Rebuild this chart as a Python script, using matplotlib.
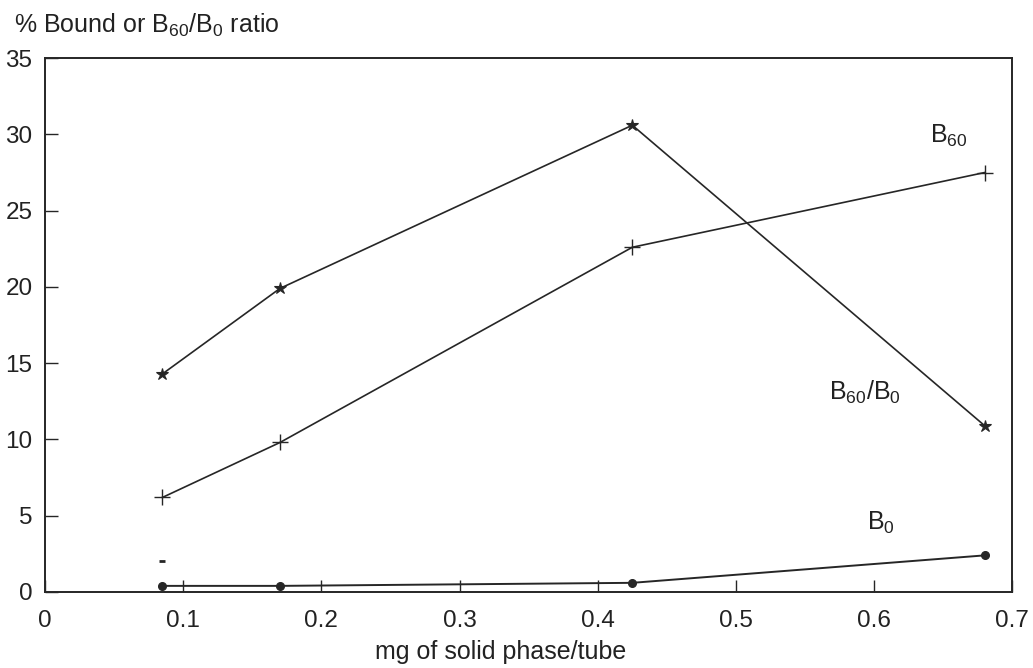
import matplotlib
matplotlib.use("Agg")
import matplotlib.pyplot as plt

plt.rcParams['font.family'] = ['Liberation Sans', 'DejaVu Sans']
plt.rcParams['mathtext.fontset'] = 'custom'
plt.rcParams['mathtext.rm'] = 'Liberation Sans'

# Data
x_mg = [0.085, 0.17, 0.425, 0.68]
ratio_b60_b0 = [14.3, 19.9, 30.6, 10.9]
b60 = [6.2, 9.8, 22.6, 27.5]
b0 = [0.4, 0.4, 0.6, 2.4]
stray_x = [0.085]
stray_y = [2.0]
x_ticks = [0, 0.1, 0.2, 0.3, 0.4, 0.5, 0.6, 0.7]
x_tick_labels = ['0', '0.1', '0.2', '0.3', '0.4', '0.5', '0.6', '0.7']
y_ticks = [0, 5, 10, 15, 20, 25, 30, 35]

ink = '#262626'
fig = plt.figure(figsize=(10.33, 6.68), dpi=100)
ax = fig.add_axes([0.0436, 0.1138, 0.9364, 0.7992])

ax.plot(x_mg, ratio_b60_b0, color=ink, lw=1.2, marker='*', ms=9, mew=0.8)
ax.plot(x_mg, b60, color=ink, lw=1.2, marker='+', ms=11, mew=1.0)
ax.plot(x_mg, b0, color=ink, lw=1.4, marker='o', ms=5.5)
ax.plot(stray_x, stray_y, ls='none', marker='_', ms=5, mew=2, color=ink)

ax.set_xlim(0, 0.7)
ax.set_ylim(0, 35)
ax.set_xticks(x_ticks)
ax.set_xticklabels(x_tick_labels)
ax.set_yticks(y_ticks)
ax.tick_params(direction='in', length=9, width=1.0, color=ink, labelsize=17.5,
               labelcolor='#222222')
ax.tick_params(axis='x', pad=13)
ax.tick_params(axis='y', pad=9)
for s in ax.spines.values():
    s.set_color(ink)
    s.set_linewidth(1.4)

tkw = dict(fontsize=18, color='#222222')
ax.text(0.654, 29.9, r'$\mathregular{B_{60}}$', ha='center', va='center', **tkw)
ax.text(0.593, 13.1, r'$\mathregular{B_{60}/B_{0}}$', ha='center', va='center', **tkw)
ax.text(0.605, 4.5, r'$\mathregular{B_{0}}$', ha='center', va='center', **tkw)

fig.text(14 / 1033, 1 - 25 / 668, r'% Bound or $\mathregular{B_{60}/B_{0}}$ ratio',
         ha='left', va='center', **tkw)
fig.text(501 / 1033, 1 - 652 / 668, 'mg of solid phase/tube', ha='center',
         va='center', **tkw)

fig.savefig('out.png', dpi=100, facecolor='white')
